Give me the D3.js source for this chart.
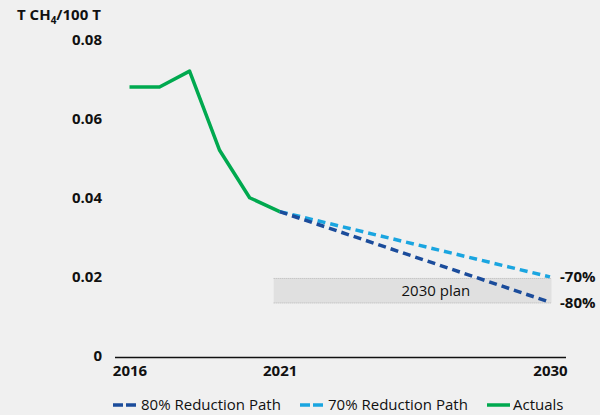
<!DOCTYPE html>
<html>
<head>
<meta charset="utf-8">
<script src="https://cdn.jsdelivr.net/npm/d3@7"></script>
<style>
  html, body { margin: 0; padding: 0; background: #f0f0f0; }
  svg { display: block; font-family: "Open Sans", "Noto Sans", sans-serif; }
</style>
</head>
<body>
<svg id="chart" width="600" height="415"></svg>
<script>
// Methane intensity, tonnes CH4 per 100 tonnes
const actualYears = [2016, 2017, 2018, 2019, 2020, 2021];
const actualValues = [0.068, 0.068, 0.072, 0.052, 0.040, 0.0365];

const pathYears = [2021, 2030];
const path80Values = [0.0365, 0.0136];
const path70Values = [0.0365, 0.0200];

const planBand = [0.0134, 0.0196];      // 2030 plan range
const planYears = [2020.8, 2030.05];
const planLabelYear = 2026.2;

const yTicks = [0, 0.02, 0.04, 0.06, 0.08];
const yTickLabels = ["0", "0.02", "0.04", "0.06", "0.08"];
const xTicks = [2016, 2021, 2030];
const endLabels = ["-70%", "-80%"];

const legendItems = [
  { label: "80% Reduction Path", color: "#1b4c9b", dashed: true },
  { label: "70% Reduction Path", color: "#1aa5e0", dashed: true },
  { label: "Actuals", color: "#00a94f", dashed: false }
];

const FS = 15;
const svg = d3.select("#chart");

const x = d3.scaleLinear().domain([2016, 2030]).range([129.5, 550]);
const y = d3.scaleLinear().domain([0, 0.08]).range([356, 39.5]);

// unit title
const title = svg.append("text")
  .attr("x", 17).attr("y", 20)
  .attr("font-size", FS).attr("font-weight", 700).attr("fill", "#111");
title.append("tspan").text("T CH");
title.append("tspan").attr("font-size", 10).attr("dy", 4).text("4");
title.append("tspan").attr("dy", -4).text("/100 T");

// y tick labels
svg.append("g").selectAll("text")
  .data(yTicks)
  .join("text")
  .attr("x", 102)
  .attr("y", d => y(d))
  .attr("dy", "0.35em")
  .attr("text-anchor", "end")
  .attr("font-size", FS).attr("font-weight", 700).attr("fill", "#111")
  .text((d, i) => yTickLabels[i]);

// 2030 plan band
svg.append("rect")
  .attr("x", x(planYears[0]))
  .attr("y", y(planBand[1]))
  .attr("width", x(planYears[1]) - x(planYears[0]))
  .attr("height", y(planBand[0]) - y(planBand[1]))
  .attr("fill", "#e0e0e0");
planBand.forEach(v => {
  svg.append("line")
    .attr("x1", x(planYears[0])).attr("x2", x(planYears[1]))
    .attr("y1", y(v)).attr("y2", y(v))
    .attr("stroke", "#b4b4b4").attr("stroke-width", 1)
    .attr("stroke-dasharray", "1,1");
});
svg.append("text")
  .attr("x", x(planLabelYear))
  .attr("y", (y(planBand[0]) + y(planBand[1])) / 2)
  .attr("dy", "0.35em")
  .attr("text-anchor", "middle")
  .attr("font-size", FS).attr("fill", "#111")
  .text("2030 plan");

// x axis
const xAxis = d3.axisBottom(x)
  .tickValues(xTicks)
  .tickFormat(d3.format("d"))
  .tickSize(0)
  .tickPadding(8);
const gx = svg.append("g")
  .attr("transform", `translate(0,${y(0) + 1.5})`)
  .call(xAxis);
gx.select(".domain").remove();
gx.append("line")
  .attr("x1", 115).attr("x2", 566)
  .attr("stroke", "#111").attr("stroke-width", 1.6);
gx.selectAll(".tick text")
  .attr("font-size", FS).attr("font-weight", 700).attr("fill", "#111")
  .attr("font-family", "Open Sans, Noto Sans, sans-serif");

const line = d3.line().x(d => x(d[0])).y(d => y(d[1]));

// reduction paths
svg.append("path")
  .datum(d3.zip(pathYears, path70Values))
  .attr("d", line)
  .attr("fill", "none")
  .attr("stroke", legendItems[1].color)
  .attr("stroke-width", 3.5)
  .attr("stroke-dasharray", "8,5");
svg.append("path")
  .datum(d3.zip(pathYears, path80Values))
  .attr("d", line)
  .attr("fill", "none")
  .attr("stroke", legendItems[0].color)
  .attr("stroke-width", 3.5)
  .attr("stroke-dasharray", "8,5");

// actuals
svg.append("path")
  .datum(d3.zip(actualYears, actualValues))
  .attr("d", line)
  .attr("fill", "none")
  .attr("stroke", legendItems[2].color)
  .attr("stroke-width", 3.5)
  .attr("stroke-linejoin", "round");

// end labels
[path70Values[1], path80Values[1]].forEach((v, i) => {
  svg.append("text")
    .attr("x", 560)
    .attr("y", y(v) + (i === 0 ? 0 : 1))
    .attr("dy", "0.35em")
    .attr("font-size", FS).attr("font-weight", 700).attr("fill", "#111")
    .text(endLabels[i]);
});

// legend
const legendX = [113, 300, 487];
const lg = svg.append("g").attr("transform", "translate(0,405)");
legendItems.forEach((item, i) => {
  const g = lg.append("g").attr("transform", `translate(${legendX[i]},0)`);
  g.append("line")
    .attr("x1", 0).attr("x2", 23)
    .attr("stroke", item.color).attr("stroke-width", 3.5)
    .attr("stroke-dasharray", item.dashed ? "10,3" : null);
  g.append("text")
    .attr("x", item.dashed ? 28 : 26)
    .attr("dy", "0.35em")
    .attr("font-size", FS).attr("fill", "#111")
    .text(item.label);
});
</script>
</body>
</html>
